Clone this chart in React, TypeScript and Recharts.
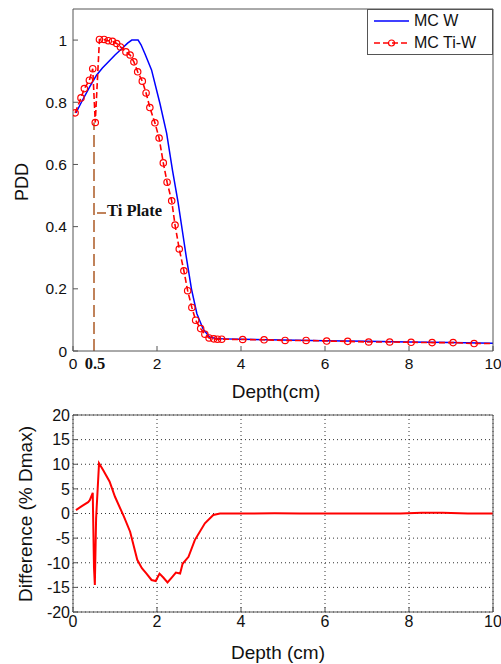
import { LineChart, Line, XAxis, YAxis, CartesianGrid, ReferenceLine } from "recharts";

// MC W (blue, solid)
const W_DEPTH = [0.07, 0.2, 0.4, 0.56, 0.7, 0.88, 1.0, 1.16, 1.3, 1.4, 1.55, 1.62, 1.71, 1.87, 2.07, 2.23, 2.37, 2.5, 2.6, 2.7, 2.82, 2.95, 3.1, 3.25, 3.4, 3.6, 4, 5, 6, 7, 8, 9, 10];
const W_PDD = [0.766, 0.8, 0.85, 0.887, 0.91, 0.935, 0.952, 0.972, 0.99, 1.0, 1.0, 0.985, 0.957, 0.904, 0.796, 0.7, 0.58, 0.48, 0.39, 0.3, 0.2, 0.12, 0.07, 0.045, 0.04, 0.039, 0.038, 0.035, 0.033, 0.031, 0.029, 0.027, 0.025];

// MC Ti-W (red, dashed with circles)
const TIW_DEPTH = [0.05, 0.19, 0.27, 0.39, 0.47, 0.53, 0.63, 0.74, 0.84, 0.94, 1.04, 1.13, 1.26, 1.36, 1.45, 1.54, 1.65, 1.74, 1.83, 1.95, 2.05, 2.15, 2.24, 2.35, 2.43, 2.53, 2.64, 2.73, 2.83, 2.92, 3.04, 3.14, 3.24, 3.35, 3.44, 3.54, 4.04, 4.55, 5.05, 5.55, 6.04, 6.54, 7.04, 7.54, 8.05, 8.55, 9.05, 9.55, 10];
const TIW_PDD = [0.766, 0.814, 0.844, 0.871, 0.908, 0.735, 1.002, 1.002, 0.998, 0.996, 0.989, 0.978, 0.962, 0.952, 0.93, 0.898, 0.868, 0.83, 0.783, 0.734, 0.685, 0.605, 0.543, 0.483, 0.405, 0.328, 0.258, 0.194, 0.14, 0.099, 0.072, 0.054, 0.042, 0.039, 0.038, 0.038, 0.037, 0.036, 0.034, 0.034, 0.032, 0.031, 0.029, 0.029, 0.028, 0.027, 0.027, 0.024, 0.024];

// difference (% Dmax)
const DIFF_DEPTH = [0.07, 0.21, 0.36, 0.4, 0.47, 0.5, 0.52, 0.55, 0.62, 0.72, 0.87, 1.0, 1.21, 1.36, 1.53, 1.64, 1.75, 1.87, 1.97, 2.06, 2.15, 2.25, 2.35, 2.45, 2.55, 2.61, 2.75, 2.9, 3.14, 3.34, 3.5, 4, 4.8, 5.4, 5.8, 6.5, 7.8, 8.3, 8.8, 9.4, 10];
const DIFF_VALUES = [0.7, 1.5, 2.3, 2.7, 4.2, -11, -14.5, -1, 10.2, 8.8, 6.5, 3.4, -0.6, -3.7, -9.4, -11.1, -12.2, -13.5, -13.7, -12.2, -13, -14, -13, -12, -12.2, -10.2, -8.8, -5.4, -2, -0.3, 0, 0, 0.05, 0, 0, 0, 0, 0.15, 0.15, 0, 0];

const TOP_X_TICKS = [0, 0.5, 2, 4, 6, 8, 10];
const X_TICKS = [0, 2, 4, 6, 8, 10];
const PDD_TICKS = [0, 0.2, 0.4, 0.6, 0.8, 1];
const DIFF_TICKS = [-20, -15, -10, -5, 0, 5, 10, 15, 20];

const TI_PLATE_X = 0.5;
const TI_PLATE_TOP = 0.735;

const SANS = "'Liberation Sans', Arial, sans-serif";
const SERIF = "'Liberation Serif', 'Times New Roman', serif";
const FRAME = "#555";
const BROWN = "#c0825a";

const wData = W_DEPTH.map((x, i) => ({ x, y: W_PDD[i] }));
const tiwData = TIW_DEPTH.map((x, i) => ({ x, y: TIW_PDD[i] }));
const diffData = DIFF_DEPTH.map((x, i) => ({ x, y: DIFF_VALUES[i] }));

function makeBottomTick(fontSize: number, dy: number) {
  return (props: any) => {
    const { x, y, payload } = props;
    const v = payload.value;
    if (v === TI_PLATE_X) {
      return (
        <text x={x + 1} y={y + dy} textAnchor="middle" fontFamily={SERIF} fontWeight="bold" fontSize={16.5} fill="#111">
          0.5
        </text>
      );
    }
    return (
      <g>
        <line x1={x} x2={x} y1={y} y2={y - 5} stroke={FRAME} />
        <text x={x} y={y + dy} textAnchor="middle" fontFamily={SANS} fontSize={fontSize} fill="#111">
          {v}
        </text>
      </g>
    );
  };
}

function makeLeftTick(fontSize: number, gap: number) {
  return (props: any) => {
    const { x, y, payload } = props;
    return (
      <g>
        <line x1={x} x2={x + 5} y1={y} y2={y} stroke={FRAME} />
        <text x={x - gap} y={y + fontSize * 0.36} textAnchor="end" fontFamily={SANS} fontSize={fontSize} fill="#111">
          {payload.value}
        </text>
      </g>
    );
  };
}

const TopTick = (props: any) => <line x1={props.x} x2={props.x} y1={props.y} y2={props.y + 5} stroke={FRAME} />;
const RightTick = (props: any) => <line x1={props.x} x2={props.x - 5} y1={props.y} y2={props.y} stroke={FRAME} />;

const lastTiw = tiwData.length - 1;
const TiwDot = (props: any) => {
  const { cx, cy, index } = props;
  if (index === lastTiw) return <g key={index} />;
  return <circle key={index} cx={cx} cy={cy} r={3.2} stroke="#ff0000" strokeWidth={1.2} fill="none" />;
};

function Title({ text, x, y, size, rotate }: { text: string; x: number; y: number; size: number; rotate?: boolean }) {
  return (
    <div
      style={{
        position: "absolute",
        left: x,
        top: y,
        transform: `translate(-50%, -50%)${rotate ? " rotate(-90deg)" : ""}`,
        fontFamily: SANS,
        fontSize: size,
        color: "#111",
        whiteSpace: "nowrap",
        lineHeight: 1,
      }}
    >
      {text}
    </div>
  );
}

export default function App() {
  return (
    <div style={{ position: "absolute", left: 0, top: 0, width: 501, height: 664, background: "#fff" }}>
      {/* PDD chart */}
      <div style={{ position: "absolute", left: 0, top: 0 }}>
        <LineChart width={501} height={400} margin={{ top: 5, right: 4, bottom: 29, left: 33 }}>
          <XAxis
            dataKey="x"
            type="number"
            domain={[0, 10]}
            ticks={TOP_X_TICKS}
            interval={0}
            allowDataOverflow
            height={20}
            tickSize={0}
            tickMargin={0}
            stroke={FRAME}
            tick={makeBottomTick(15.5, 18)}
          />
          <XAxis xAxisId="top" orientation="top" type="number" domain={[0, 10]} ticks={X_TICKS} height={4} tickSize={0} tickMargin={0} stroke={FRAME} tick={TopTick} />
          <YAxis
            type="number"
            domain={[0, 1.1]}
            ticks={PDD_TICKS}
            interval={0}
            allowDataOverflow
            width={40}
            tickSize={0}
            tickMargin={0}
            stroke={FRAME}
            tick={makeLeftTick(15.5, 6)}
          />
          <YAxis yAxisId="right" orientation="right" type="number" domain={[0, 1.1]} ticks={PDD_TICKS} width={4} tickSize={0} tickMargin={0} stroke={FRAME} tick={RightTick} />
          <ReferenceLine
            segment={[
              { x: TI_PLATE_X, y: 0 },
              { x: TI_PLATE_X, y: TI_PLATE_TOP },
            ]}
            stroke={BROWN}
            strokeWidth={2}
            strokeDasharray="12 5"
          />
          <Line data={wData} dataKey="y" name="MC W" stroke="#0000ff" strokeWidth={1.5} dot={false} isAnimationActive={false} />
          <Line
            data={tiwData}
            dataKey="y"
            name="MC Ti-W"
            stroke="#ff0000"
            strokeWidth={1.6}
            strokeDasharray="6 3"
            dot={TiwDot}
            isAnimationActive={false}
          />
        </LineChart>
      </div>

      {/* Ti plate annotation */}
      <div style={{ position: "absolute", left: 97, top: 212, width: 9, height: 1.5, background: BROWN }} />
      <div style={{ position: "absolute", left: 107, top: 203, fontFamily: SERIF, fontWeight: "bold", fontSize: 16.5, color: "#111", whiteSpace: "nowrap", lineHeight: 1 }}>
        Ti Plate
      </div>

      {/* legend */}
      <div style={{ position: "absolute", left: 367, top: 9, width: 126, height: 46, border: `1px solid ${FRAME}`, background: "#fff", boxSizing: "border-box", fontFamily: SANS, fontSize: 16, color: "#111" }}>
        <div style={{ position: "absolute", left: 6, top: 3, display: "flex", alignItems: "center", gap: 5, lineHeight: 1 }}>
          <svg width={35} height={16}>
            <line x1={0} x2={35} y1={8} y2={8} stroke="#0000ff" strokeWidth={1.5} />
          </svg>
          <span>MC W</span>
        </div>
        <div style={{ position: "absolute", left: 6, top: 25, display: "flex", alignItems: "center", gap: 5, lineHeight: 1 }}>
          <svg width={35} height={16}>
            <line x1={0} x2={35} y1={8} y2={8} stroke="#ff0000" strokeWidth={1.5} strokeDasharray="6 3" />
            <circle cx={17.5} cy={8} r={3} stroke="#ff0000" strokeWidth={1.2} fill="none" />
          </svg>
          <span>MC Ti-W</span>
        </div>
      </div>

      <Title text="PDD" x={22} y={182} size={18} rotate />
      <Title text="Depth(cm)" x={276} y={391} size={19} />

      {/* difference chart */}
      <div style={{ position: "absolute", left: 0, top: 400 }}>
        <LineChart width={501} height={264} margin={{ top: 11, right: 4, bottom: 32, left: 33 }}>
          <CartesianGrid stroke="#333" strokeDasharray="1 3" />
          <XAxis
            dataKey="x"
            type="number"
            domain={[0, 10]}
            ticks={X_TICKS}
            interval={0}
            allowDataOverflow
            height={20}
            tickSize={0}
            tickMargin={0}
            stroke={FRAME}
            tick={makeBottomTick(16, 14.5)}
          />
          <XAxis xAxisId="top" orientation="top" type="number" domain={[0, 10]} ticks={X_TICKS} height={4} tickSize={0} tickMargin={0} stroke={FRAME} tick={TopTick} />
          <YAxis
            type="number"
            domain={[-20, 20]}
            ticks={DIFF_TICKS}
            interval={0}
            allowDataOverflow
            width={40}
            tickSize={0}
            tickMargin={0}
            stroke={FRAME}
            tick={makeLeftTick(16, 3)}
          />
          <YAxis yAxisId="right" orientation="right" type="number" domain={[-20, 20]} ticks={DIFF_TICKS} width={4} tickSize={0} tickMargin={0} stroke={FRAME} tick={RightTick} />
          <Line data={diffData} dataKey="y" stroke="#ff0000" strokeWidth={2} dot={false} isAnimationActive={false} />
        </LineChart>
      </div>

      <Title text="Difference (% Dmax)" x={25} y={514} size={19} rotate />
      <Title text="Depth (cm)" x={278} y={652} size={19} />
    </div>
  );
}
